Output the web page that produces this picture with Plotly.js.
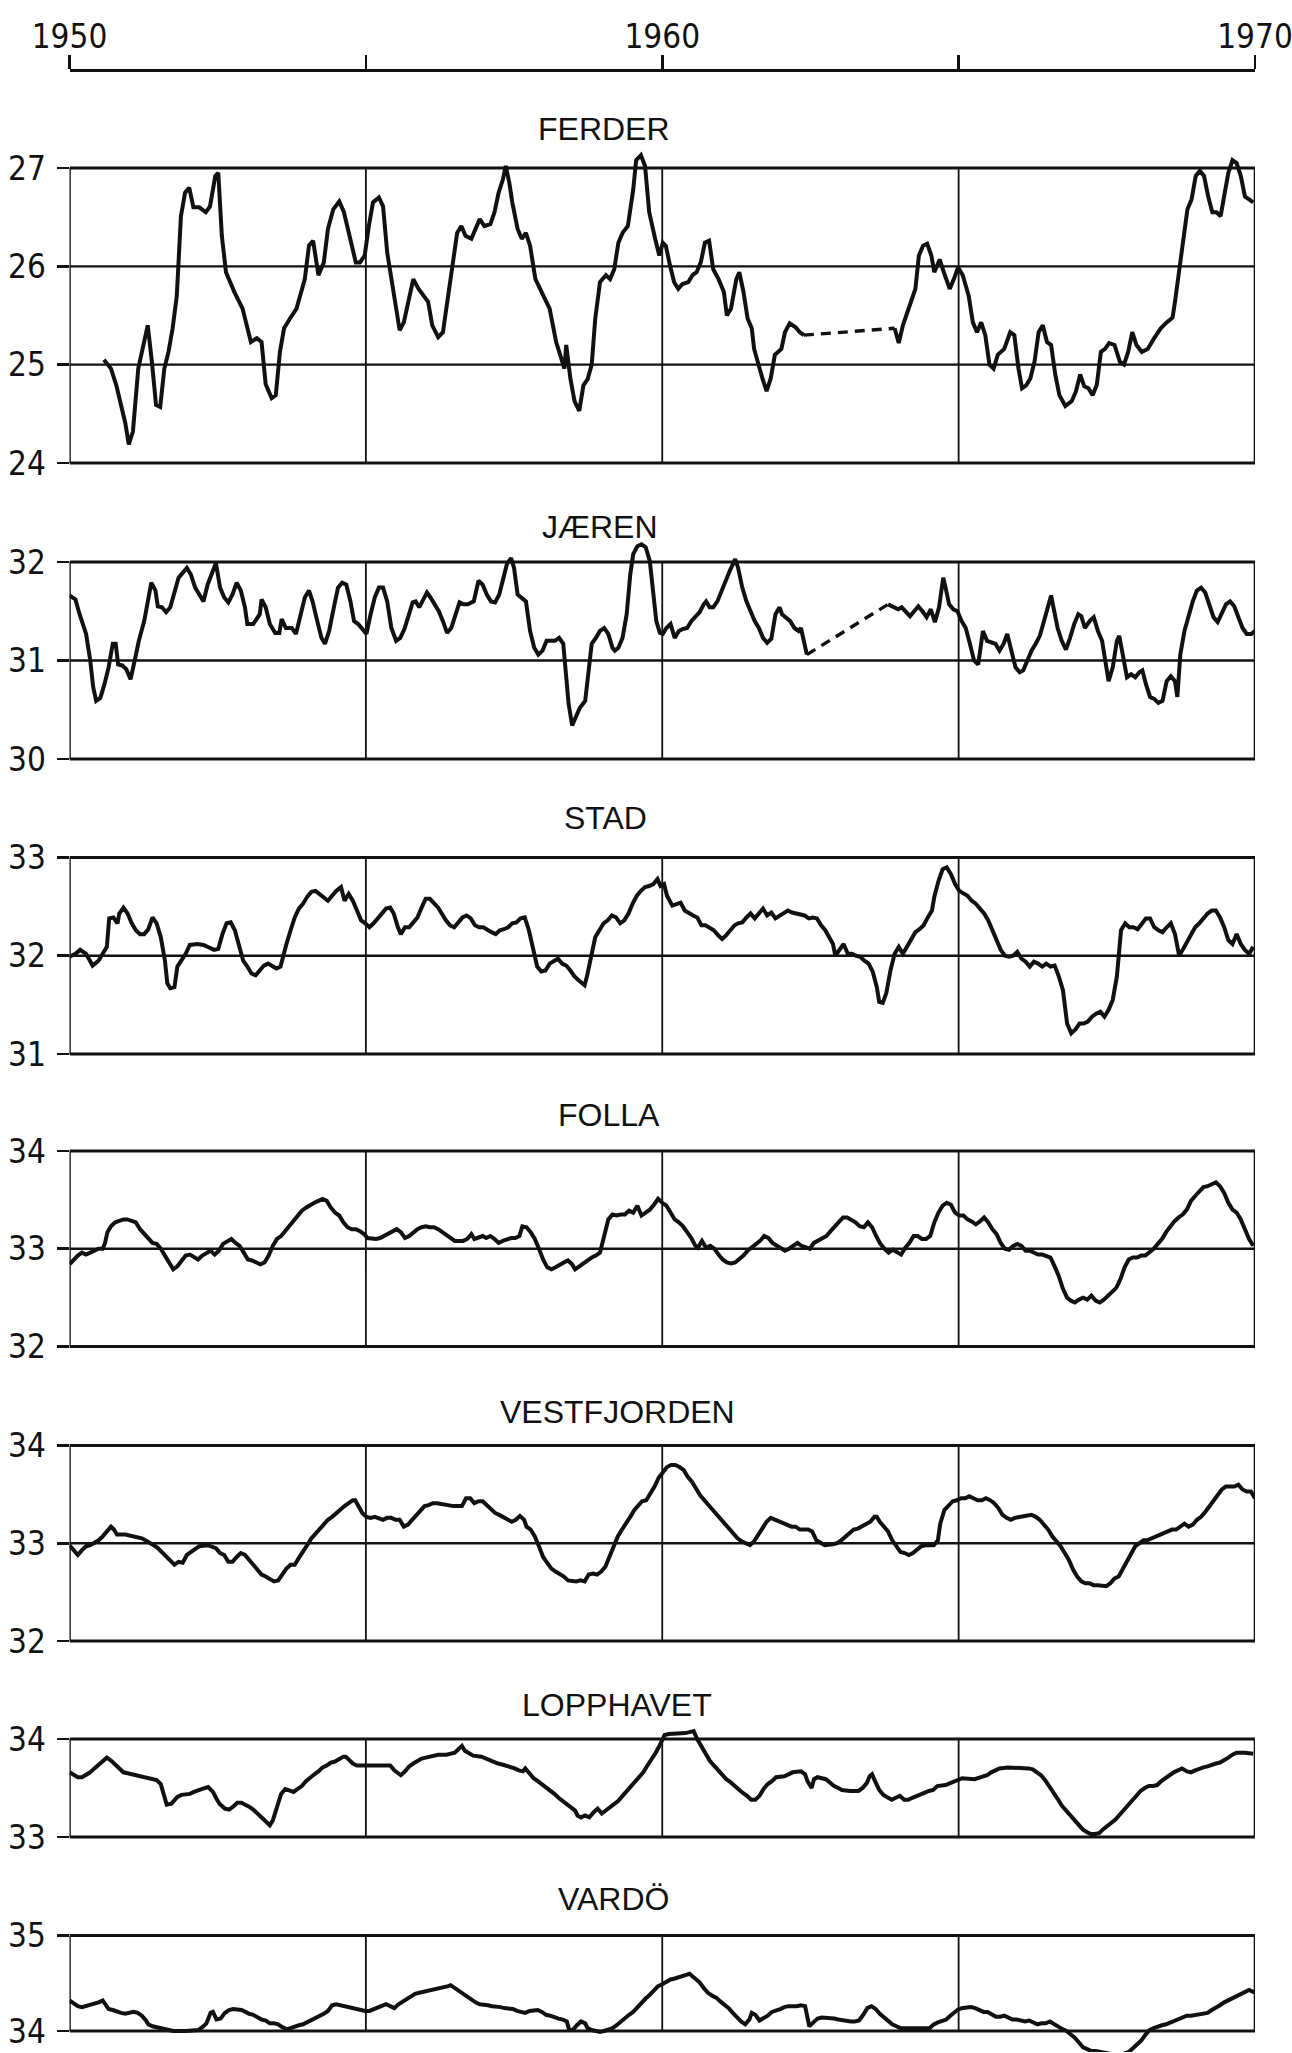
<!DOCTYPE html>
<html>
<head>
<meta charset="utf-8">
<script src="https://cdn.plot.ly/plotly-3.0.1.min.js"></script>
<style>body{margin:0;background:#fff}</style>
</head>
<body>
<div id="chart" style="width:1292px;height:2053px"></div>
<script>
// stations, top to bottom
stations = ['FERDER', 'JÆREN', 'STAD', 'FOLLA', 'VESTFJORDEN', 'LOPPHAVET', 'VARDÖ']
// y ticks of each panel, the box runs from first to last
yticks = [[24,25,26,27], [30,31,32], [31,32,33], [32,33,34], [32,33,34], [33,34], [34,35]]
yearTicks = [1950, 1955, 1960, 1965, 1970]
yearLabels = ['1950', '', '1960', '', '1970']

// [year, salinity]; null marks the gap drawn dashed
ferder = [[1950.58,25.05],[1950.70,24.96],[1950.79,24.79],[1950.88,24.58],[1950.94,24.41],[1951.00,24.19],[1951.07,24.32],[1951.16,24.96],[1951.32,25.40],[1951.39,25.03],[1951.46,24.59],[1951.53,24.57],[1951.60,24.96],[1951.67,25.13],[1951.74,25.37],[1951.81,25.70],[1951.88,26.51],[1951.95,26.75],[1952.02,26.80],[1952.09,26.60],[1952.19,26.60],[1952.30,26.55],[1952.37,26.61],[1952.46,26.92],[1952.51,26.95],[1952.57,26.31],[1952.64,25.94],[1952.78,25.74],[1952.92,25.57],[1953.06,25.23],[1953.16,25.27],[1953.24,25.23],[1953.31,24.80],[1953.41,24.66],[1953.48,24.69],[1953.55,25.13],[1953.62,25.37],[1953.72,25.47],[1953.83,25.57],[1953.97,25.87],[1954.04,26.21],[1954.11,26.26],[1954.20,25.91],[1954.29,26.04],[1954.36,26.38],[1954.45,26.58],[1954.55,26.66],[1954.63,26.55],[1954.73,26.31],[1954.83,26.04],[1954.90,26.04],[1954.98,26.11],[1955.05,26.41],[1955.12,26.65],[1955.22,26.70],[1955.29,26.61],[1955.36,26.14],[1955.47,25.74],[1955.57,25.35],[1955.64,25.43],[1955.73,25.70],[1955.80,25.87],[1955.89,25.77],[1955.98,25.70],[1956.05,25.64],[1956.12,25.40],[1956.22,25.28],[1956.30,25.33],[1956.40,25.74],[1956.47,26.07],[1956.54,26.34],[1956.61,26.41],[1956.68,26.31],[1956.78,26.28],[1956.85,26.39],[1956.92,26.48],[1957.00,26.41],[1957.10,26.43],[1957.17,26.55],[1957.24,26.75],[1957.31,26.88],[1957.36,27.02],[1957.42,26.85],[1957.47,26.65],[1957.56,26.38],[1957.63,26.28],[1957.70,26.34],[1957.77,26.21],[1957.86,25.87],[1958.00,25.70],[1958.10,25.57],[1958.21,25.23],[1958.28,25.10],[1958.35,24.96],[1958.38,25.20],[1958.45,24.86],[1958.52,24.63],[1958.60,24.53],[1958.67,24.79],[1958.74,24.85],[1958.81,25.00],[1958.87,25.47],[1958.95,25.84],[1959.05,25.91],[1959.12,25.87],[1959.19,25.97],[1959.26,26.24],[1959.33,26.34],[1959.42,26.41],[1959.51,26.78],[1959.56,27.08],[1959.64,27.13],[1959.71,27.02],[1959.78,26.55],[1959.88,26.28],[1959.95,26.11],[1960.01,26.24],[1960.06,26.21],[1960.13,26.01],[1960.20,25.84],[1960.27,25.77],[1960.34,25.82],[1960.44,25.84],[1960.51,25.91],[1960.58,25.94],[1960.65,26.04],[1960.72,26.24],[1960.79,26.26],[1960.86,25.97],[1960.95,25.87],[1961.04,25.74],[1961.09,25.50],[1961.16,25.57],[1961.25,25.87],[1961.30,25.94],[1961.37,25.74],[1961.44,25.47],[1961.51,25.37],[1961.55,25.16],[1961.62,25.00],[1961.69,24.86],[1961.76,24.73],[1961.83,24.86],[1961.90,25.10],[1962.01,25.16],[1962.07,25.33],[1962.15,25.42],[1962.25,25.38],[1962.32,25.33],[1962.39,25.30],
  null,
  [1963.92,25.37],[1963.99,25.22],[1964.06,25.40],[1964.20,25.64],[1964.27,25.77],[1964.33,26.11],[1964.40,26.21],[1964.47,26.23],[1964.54,26.11],[1964.59,25.94],[1964.68,26.07],[1964.75,25.94],[1964.85,25.77],[1964.92,25.87],[1964.99,25.99],[1965.07,25.91],[1965.17,25.70],[1965.24,25.43],[1965.31,25.33],[1965.38,25.43],[1965.45,25.30],[1965.52,25.00],[1965.59,24.96],[1965.66,25.10],[1965.77,25.16],[1965.87,25.33],[1965.94,25.30],[1966.01,24.96],[1966.07,24.76],[1966.14,24.79],[1966.21,24.86],[1966.28,25.03],[1966.35,25.33],[1966.42,25.40],[1966.49,25.23],[1966.56,25.20],[1966.63,24.90],[1966.70,24.69],[1966.80,24.58],[1966.91,24.63],[1966.98,24.73],[1967.05,24.90],[1967.12,24.78],[1967.19,24.76],[1967.26,24.69],[1967.33,24.79],[1967.40,25.13],[1967.47,25.16],[1967.54,25.22],[1967.63,25.20],[1967.72,25.03],[1967.79,25.00],[1967.86,25.13],[1967.93,25.33],[1968.00,25.20],[1968.09,25.13],[1968.19,25.16],[1968.30,25.27],[1968.41,25.37],[1968.51,25.43],[1968.61,25.48],[1968.65,25.64],[1968.72,25.97],[1968.79,26.31],[1968.86,26.58],[1968.93,26.68],[1969.00,26.92],[1969.07,26.97],[1969.14,26.92],[1969.21,26.71],[1969.28,26.55],[1969.35,26.55],[1969.42,26.51],[1969.49,26.75],[1969.55,26.95],[1969.62,27.08],[1969.69,27.05],[1969.76,26.92],[1969.83,26.71],[1969.90,26.68],[1969.97,26.65]]

jaeren = [[1950.00,31.66],[1950.10,31.62],[1950.17,31.47],[1950.28,31.27],[1950.35,31.00],[1950.40,30.73],[1950.45,30.59],[1950.52,30.62],[1950.59,30.76],[1950.66,30.93],[1950.73,31.17],[1950.78,31.17],[1950.82,30.96],[1950.89,30.95],[1950.96,30.91],[1951.03,30.81],[1951.10,31.00],[1951.17,31.20],[1951.26,31.40],[1951.32,31.60],[1951.38,31.79],[1951.45,31.71],[1951.49,31.55],[1951.56,31.54],[1951.63,31.49],[1951.70,31.54],[1951.77,31.71],[1951.84,31.84],[1951.91,31.89],[1951.98,31.94],[1952.05,31.87],[1952.12,31.74],[1952.19,31.67],[1952.26,31.60],[1952.33,31.77],[1952.43,31.94],[1952.47,31.99],[1952.54,31.74],[1952.61,31.64],[1952.68,31.59],[1952.75,31.67],[1952.82,31.79],[1952.89,31.71],[1952.96,31.54],[1953.00,31.37],[1953.10,31.37],[1953.21,31.47],[1953.24,31.62],[1953.31,31.54],[1953.38,31.37],[1953.47,31.28],[1953.54,31.28],[1953.58,31.42],[1953.65,31.33],[1953.75,31.33],[1953.82,31.27],[1953.91,31.47],[1953.97,31.64],[1954.04,31.71],[1954.10,31.60],[1954.18,31.40],[1954.25,31.23],[1954.31,31.17],[1954.38,31.30],[1954.46,31.54],[1954.53,31.74],[1954.60,31.79],[1954.67,31.77],[1954.74,31.60],[1954.80,31.40],[1954.87,31.37],[1954.94,31.32],[1955.01,31.27],[1955.08,31.47],[1955.15,31.64],[1955.22,31.74],[1955.29,31.74],[1955.36,31.60],[1955.43,31.33],[1955.51,31.20],[1955.58,31.23],[1955.65,31.32],[1955.72,31.47],[1955.79,31.59],[1955.84,31.60],[1955.90,31.54],[1955.97,31.62],[1956.03,31.69],[1956.09,31.64],[1956.16,31.57],[1956.23,31.50],[1956.30,31.40],[1956.37,31.28],[1956.44,31.33],[1956.51,31.47],[1956.58,31.59],[1956.65,31.57],[1956.72,31.57],[1956.82,31.60],[1956.90,31.81],[1956.97,31.77],[1957.04,31.67],[1957.11,31.60],[1957.18,31.59],[1957.25,31.67],[1957.32,31.84],[1957.38,31.98],[1957.45,32.04],[1957.50,31.94],[1957.56,31.67],[1957.63,31.64],[1957.70,31.60],[1957.77,31.30],[1957.84,31.13],[1957.91,31.06],[1957.98,31.10],[1958.05,31.20],[1958.12,31.20],[1958.19,31.20],[1958.26,31.23],[1958.33,31.17],[1958.37,30.90],[1958.42,30.56],[1958.48,30.34],[1958.54,30.42],[1958.61,30.52],[1958.70,30.59],[1958.74,30.79],[1958.81,31.17],[1958.88,31.23],[1958.95,31.30],[1959.02,31.33],[1959.09,31.27],[1959.16,31.13],[1959.20,31.10],[1959.26,31.13],[1959.33,31.23],[1959.40,31.47],[1959.46,31.87],[1959.51,32.08],[1959.58,32.16],[1959.65,32.18],[1959.72,32.15],[1959.79,32.01],[1959.85,31.71],[1959.90,31.40],[1959.96,31.28],[1960.01,31.27],[1960.07,31.33],[1960.14,31.37],[1960.21,31.23],[1960.28,31.30],[1960.35,31.32],[1960.42,31.33],[1960.49,31.40],[1960.56,31.44],[1960.63,31.49],[1960.70,31.57],[1960.74,31.60],[1960.80,31.54],[1960.86,31.54],[1960.93,31.60],[1961.00,31.71],[1961.07,31.81],[1961.14,31.91],[1961.23,32.03],[1961.28,31.94],[1961.35,31.74],[1961.42,31.60],[1961.49,31.50],[1961.56,31.40],[1961.63,31.33],[1961.70,31.23],[1961.77,31.18],[1961.84,31.22],[1961.91,31.47],[1961.98,31.54],[1962.02,31.47],[1962.09,31.44],[1962.16,31.40],[1962.23,31.33],[1962.30,31.30],[1962.34,31.33],[1962.40,31.17],[1962.44,31.06],
  null,
  [1963.81,31.57],[1963.91,31.54],[1963.98,31.52],[1964.04,31.54],[1964.11,31.49],[1964.18,31.45],[1964.25,31.50],[1964.32,31.55],[1964.39,31.50],[1964.46,31.44],[1964.53,31.52],[1964.60,31.39],[1964.67,31.54],[1964.74,31.84],[1964.78,31.74],[1964.84,31.57],[1964.91,31.52],[1964.98,31.50],[1965.05,31.40],[1965.12,31.33],[1965.19,31.17],[1965.26,31.00],[1965.33,30.96],[1965.41,31.30],[1965.48,31.20],[1965.55,31.18],[1965.62,31.17],[1965.69,31.10],[1965.76,31.17],[1965.82,31.27],[1965.89,31.10],[1965.96,30.93],[1966.03,30.88],[1966.09,30.90],[1966.16,31.00],[1966.23,31.10],[1966.30,31.17],[1966.37,31.25],[1966.44,31.40],[1966.51,31.57],[1966.56,31.66],[1966.60,31.54],[1966.67,31.33],[1966.74,31.20],[1966.81,31.11],[1966.88,31.23],[1966.95,31.37],[1967.02,31.47],[1967.07,31.45],[1967.13,31.33],[1967.21,31.40],[1967.28,31.44],[1967.35,31.30],[1967.42,31.20],[1967.49,30.93],[1967.53,30.79],[1967.60,30.93],[1967.67,31.20],[1967.71,31.25],[1967.77,31.03],[1967.84,30.83],[1967.91,30.86],[1967.98,30.83],[1968.05,30.88],[1968.10,30.90],[1968.16,30.76],[1968.23,30.63],[1968.30,30.61],[1968.37,30.57],[1968.44,30.59],[1968.51,30.79],[1968.58,30.84],[1968.65,30.79],[1968.69,30.63],[1968.74,31.06],[1968.81,31.30],[1968.88,31.47],[1968.95,31.60],[1969.02,31.71],[1969.09,31.74],[1969.16,31.69],[1969.23,31.57],[1969.30,31.44],[1969.37,31.39],[1969.44,31.47],[1969.51,31.57],[1969.58,31.60],[1969.65,31.55],[1969.72,31.44],[1969.79,31.33],[1969.86,31.27],[1969.94,31.27],[1970.00,31.30]]

stad = [[1950.00,31.99],[1950.10,32.02],[1950.18,32.06],[1950.28,32.02],[1950.39,31.90],[1950.49,31.95],[1950.56,32.02],[1950.63,32.09],[1950.67,32.38],[1950.74,32.39],[1950.81,32.33],[1950.84,32.43],[1950.91,32.49],[1950.98,32.43],[1951.05,32.33],[1951.12,32.26],[1951.19,32.22],[1951.26,32.22],[1951.33,32.27],[1951.40,32.39],[1951.47,32.33],[1951.54,32.19],[1951.61,31.95],[1951.65,31.72],[1951.70,31.67],[1951.77,31.68],[1951.82,31.89],[1951.89,31.95],[1951.96,32.02],[1952.03,32.11],[1952.10,32.12],[1952.16,32.12],[1952.26,32.11],[1952.35,32.09],[1952.44,32.06],[1952.51,32.07],[1952.58,32.22],[1952.65,32.33],[1952.72,32.34],[1952.79,32.26],[1952.86,32.09],[1952.93,31.95],[1953.00,31.89],[1953.07,31.82],[1953.14,31.80],[1953.21,31.85],[1953.28,31.90],[1953.35,31.92],[1953.42,31.89],[1953.49,31.87],[1953.56,31.89],[1953.60,31.99],[1953.66,32.12],[1953.73,32.26],[1953.80,32.39],[1953.87,32.48],[1953.94,32.53],[1954.01,32.60],[1954.08,32.65],[1954.15,32.66],[1954.22,32.63],[1954.29,32.60],[1954.36,32.56],[1954.43,32.61],[1954.50,32.66],[1954.58,32.70],[1954.64,32.56],[1954.71,32.63],[1954.78,32.56],[1954.85,32.46],[1954.92,32.36],[1954.99,32.33],[1955.06,32.29],[1955.13,32.33],[1955.20,32.38],[1955.27,32.43],[1955.34,32.48],[1955.41,32.49],[1955.47,32.43],[1955.54,32.29],[1955.59,32.22],[1955.66,32.29],[1955.73,32.29],[1955.80,32.34],[1955.87,32.39],[1955.94,32.49],[1956.01,32.58],[1956.08,32.58],[1956.15,32.54],[1956.22,32.49],[1956.28,32.43],[1956.35,32.36],[1956.42,32.31],[1956.49,32.29],[1956.56,32.34],[1956.63,32.39],[1956.70,32.41],[1956.77,32.38],[1956.84,32.31],[1956.91,32.29],[1956.98,32.29],[1957.05,32.26],[1957.12,32.24],[1957.19,32.22],[1957.26,32.26],[1957.33,32.27],[1957.40,32.29],[1957.47,32.33],[1957.54,32.34],[1957.61,32.38],[1957.68,32.39],[1957.75,32.26],[1957.82,32.06],[1957.89,31.89],[1957.96,31.84],[1958.03,31.85],[1958.10,31.92],[1958.17,31.95],[1958.24,31.97],[1958.31,31.92],[1958.38,31.90],[1958.45,31.85],[1958.52,31.79],[1958.59,31.75],[1958.69,31.70],[1958.73,31.79],[1958.80,31.99],[1958.87,32.19],[1958.94,32.26],[1959.01,32.33],[1959.08,32.36],[1959.15,32.41],[1959.22,32.39],[1959.29,32.33],[1959.36,32.36],[1959.43,32.43],[1959.50,32.53],[1959.57,32.61],[1959.64,32.66],[1959.71,32.70],[1959.78,32.71],[1959.85,32.73],[1959.92,32.78],[1959.97,32.71],[1960.03,32.73],[1960.08,32.61],[1960.17,32.51],[1960.24,32.53],[1960.31,32.54],[1960.38,32.46],[1960.45,32.43],[1960.52,32.41],[1960.59,32.39],[1960.66,32.31],[1960.73,32.31],[1960.80,32.29],[1960.87,32.26],[1960.94,32.21],[1961.01,32.17],[1961.08,32.21],[1961.15,32.26],[1961.22,32.31],[1961.28,32.33],[1961.35,32.34],[1961.42,32.39],[1961.49,32.43],[1961.56,32.38],[1961.63,32.43],[1961.70,32.48],[1961.77,32.41],[1961.84,32.44],[1961.91,32.38],[1961.98,32.41],[1962.05,32.43],[1962.12,32.46],[1962.19,32.44],[1962.26,32.43],[1962.33,32.43],[1962.40,32.41],[1962.47,32.38],[1962.54,32.39],[1962.61,32.38],[1962.68,32.31],[1962.75,32.26],[1962.82,32.19],[1962.88,32.12],[1962.92,32.00],[1962.99,32.06],[1963.06,32.12],[1963.13,32.02],[1963.20,32.02],[1963.27,32.00],[1963.34,31.99],[1963.41,31.95],[1963.48,31.92],[1963.55,31.84],[1963.62,31.68],[1963.66,31.53],[1963.72,31.52],[1963.78,31.62],[1963.85,31.85],[1963.92,32.02],[1963.99,32.09],[1964.06,32.02],[1964.13,32.09],[1964.20,32.17],[1964.27,32.24],[1964.34,32.27],[1964.41,32.31],[1964.48,32.39],[1964.55,32.46],[1964.59,32.60],[1964.66,32.76],[1964.73,32.88],[1964.80,32.90],[1964.87,32.83],[1964.94,32.73],[1965.01,32.66],[1965.08,32.63],[1965.15,32.61],[1965.22,32.56],[1965.29,32.53],[1965.36,32.48],[1965.43,32.43],[1965.50,32.36],[1965.57,32.26],[1965.64,32.16],[1965.71,32.06],[1965.78,32.00],[1965.85,31.99],[1965.92,32.00],[1965.99,32.04],[1966.06,31.97],[1966.13,31.94],[1966.20,31.89],[1966.27,31.94],[1966.34,31.92],[1966.41,31.89],[1966.48,31.92],[1966.55,31.89],[1966.62,31.90],[1966.69,31.79],[1966.76,31.65],[1966.83,31.31],[1966.90,31.21],[1966.97,31.25],[1967.04,31.31],[1967.11,31.31],[1967.18,31.33],[1967.25,31.38],[1967.32,31.41],[1967.39,31.43],[1967.46,31.38],[1967.53,31.45],[1967.60,31.55],[1967.67,31.79],[1967.74,32.26],[1967.81,32.33],[1967.88,32.29],[1967.95,32.29],[1968.02,32.27],[1968.09,32.33],[1968.16,32.38],[1968.23,32.38],[1968.30,32.29],[1968.37,32.26],[1968.44,32.24],[1968.51,32.29],[1968.58,32.33],[1968.65,32.22],[1968.72,32.00],[1968.78,32.06],[1968.85,32.14],[1968.92,32.22],[1968.99,32.29],[1969.06,32.33],[1969.13,32.38],[1969.20,32.43],[1969.27,32.46],[1969.34,32.46],[1969.41,32.39],[1969.48,32.29],[1969.55,32.16],[1969.62,32.12],[1969.69,32.22],[1969.76,32.12],[1969.83,32.06],[1969.90,32.02],[1969.97,32.09]]

folla = [[1950.00,32.84],[1950.07,32.89],[1950.14,32.93],[1950.21,32.96],[1950.28,32.94],[1950.35,32.96],[1950.42,32.98],[1950.49,33.00],[1950.56,33.00],[1950.60,33.06],[1950.64,33.17],[1950.70,33.23],[1950.77,33.27],[1950.84,33.29],[1950.91,33.30],[1950.98,33.30],[1951.05,33.28],[1951.12,33.27],[1951.19,33.20],[1951.26,33.15],[1951.33,33.11],[1951.40,33.06],[1951.47,33.05],[1951.54,33.00],[1951.61,32.93],[1951.68,32.86],[1951.75,32.79],[1951.82,32.82],[1951.89,32.88],[1951.96,32.93],[1952.03,32.94],[1952.10,32.91],[1952.17,32.89],[1952.24,32.93],[1952.31,32.96],[1952.38,32.98],[1952.45,32.94],[1952.52,32.98],[1952.59,33.05],[1952.66,33.08],[1952.73,33.10],[1952.80,33.06],[1952.87,33.03],[1952.94,32.96],[1953.01,32.89],[1953.08,32.88],[1953.15,32.86],[1953.22,32.84],[1953.29,32.86],[1953.36,32.93],[1953.43,33.03],[1953.50,33.10],[1953.57,33.13],[1953.64,33.18],[1953.71,33.23],[1953.78,33.28],[1953.85,33.34],[1953.92,33.39],[1953.99,33.42],[1954.06,33.45],[1954.13,33.47],[1954.20,33.49],[1954.27,33.51],[1954.34,33.49],[1954.41,33.42],[1954.48,33.37],[1954.55,33.34],[1954.62,33.27],[1954.69,33.22],[1954.76,33.20],[1954.83,33.20],[1954.90,33.18],[1954.97,33.15],[1955.03,33.11],[1955.10,33.10],[1955.17,33.10],[1955.24,33.11],[1955.31,33.13],[1955.38,33.15],[1955.45,33.18],[1955.52,33.20],[1955.59,33.17],[1955.66,33.11],[1955.73,33.13],[1955.80,33.17],[1955.87,33.20],[1955.94,33.22],[1956.01,33.23],[1956.08,33.22],[1956.15,33.22],[1956.22,33.20],[1956.29,33.17],[1956.36,33.13],[1956.43,33.10],[1956.50,33.08],[1956.57,33.08],[1956.64,33.08],[1956.71,33.10],[1956.78,33.15],[1956.83,33.10],[1956.90,33.11],[1956.97,33.13],[1957.03,33.11],[1957.10,33.13],[1957.17,33.10],[1957.24,33.06],[1957.31,33.08],[1957.38,33.10],[1957.45,33.11],[1957.52,33.11],[1957.59,33.13],[1957.64,33.23],[1957.71,33.22],[1957.78,33.17],[1957.85,33.10],[1957.92,33.00],[1957.99,32.89],[1958.06,32.81],[1958.13,32.79],[1958.20,32.81],[1958.27,32.84],[1958.34,32.86],[1958.41,32.88],[1958.48,32.84],[1958.53,32.79],[1958.60,32.82],[1958.67,32.86],[1958.74,32.88],[1958.81,32.91],[1958.88,32.93],[1958.95,32.96],[1959.02,33.13],[1959.09,33.30],[1959.16,33.35],[1959.23,33.34],[1959.30,33.35],[1959.37,33.35],[1959.44,33.39],[1959.51,33.37],[1959.58,33.44],[1959.65,33.34],[1959.72,33.37],[1959.79,33.40],[1959.86,33.45],[1959.93,33.51],[1960.00,33.47],[1960.07,33.44],[1960.14,33.37],[1960.21,33.30],[1960.28,33.27],[1960.35,33.23],[1960.42,33.17],[1960.49,33.11],[1960.56,33.03],[1960.60,33.01],[1960.67,33.08],[1960.74,33.01],[1960.81,33.03],[1960.88,33.00],[1960.95,32.94],[1961.02,32.89],[1961.09,32.86],[1961.16,32.85],[1961.23,32.86],[1961.30,32.89],[1961.37,32.93],[1961.44,32.98],[1961.51,33.01],[1961.58,33.05],[1961.65,33.08],[1961.72,33.13],[1961.79,33.11],[1961.86,33.06],[1961.93,33.03],[1962.00,33.00],[1962.07,32.98],[1962.14,33.00],[1962.21,33.03],[1962.28,33.06],[1962.35,33.03],[1962.42,33.01],[1962.49,33.00],[1962.56,33.06],[1962.63,33.08],[1962.70,33.10],[1962.77,33.13],[1962.84,33.18],[1962.91,33.23],[1962.98,33.28],[1963.05,33.32],[1963.12,33.32],[1963.19,33.30],[1963.26,33.27],[1963.33,33.23],[1963.40,33.22],[1963.47,33.27],[1963.54,33.22],[1963.61,33.13],[1963.68,33.05],[1963.75,33.00],[1963.82,32.96],[1963.89,32.99],[1963.96,32.96],[1964.03,32.94],[1964.10,33.01],[1964.17,33.06],[1964.24,33.13],[1964.31,33.13],[1964.38,33.10],[1964.45,33.10],[1964.52,33.13],[1964.59,33.27],[1964.66,33.37],[1964.73,33.44],[1964.80,33.47],[1964.87,33.45],[1964.94,33.37],[1965.01,33.34],[1965.08,33.34],[1965.15,33.30],[1965.22,33.28],[1965.29,33.25],[1965.36,33.28],[1965.43,33.32],[1965.50,33.27],[1965.57,33.20],[1965.64,33.15],[1965.71,33.06],[1965.78,33.00],[1965.85,32.99],[1965.92,33.03],[1965.99,33.05],[1966.06,33.03],[1966.13,32.98],[1966.20,32.98],[1966.27,32.96],[1966.34,32.94],[1966.41,32.94],[1966.48,32.93],[1966.55,32.91],[1966.62,32.82],[1966.69,32.72],[1966.76,32.59],[1966.83,32.50],[1966.89,32.47],[1966.96,32.45],[1967.03,32.48],[1967.10,32.50],[1967.17,32.48],[1967.24,32.52],[1967.31,32.47],[1967.38,32.45],[1967.45,32.48],[1967.52,32.52],[1967.59,32.55],[1967.66,32.60],[1967.73,32.69],[1967.80,32.81],[1967.87,32.89],[1967.94,32.91],[1968.01,32.91],[1968.08,32.93],[1968.15,32.93],[1968.22,32.96],[1968.29,33.00],[1968.36,33.05],[1968.43,33.10],[1968.50,33.17],[1968.57,33.23],[1968.64,33.28],[1968.71,33.32],[1968.78,33.35],[1968.85,33.40],[1968.92,33.49],[1968.99,33.54],[1969.06,33.59],[1969.13,33.63],[1969.20,33.64],[1969.27,33.66],[1969.34,33.68],[1969.41,33.64],[1969.48,33.57],[1969.55,33.47],[1969.62,33.40],[1969.69,33.37],[1969.76,33.30],[1969.83,33.20],[1969.90,33.10],[1969.97,33.03]]

vestfjorden = [[1950.00,32.98],[1950.07,32.93],[1950.14,32.88],[1950.21,32.93],[1950.28,32.97],[1950.35,32.98],[1950.42,33.00],[1950.49,33.03],[1950.56,33.07],[1950.63,33.12],[1950.70,33.17],[1950.75,33.14],[1950.80,33.09],[1950.94,33.09],[1951.08,33.07],[1951.22,33.05],[1951.28,33.03],[1951.35,33.01],[1951.42,32.98],[1951.49,32.95],[1951.56,32.91],[1951.63,32.86],[1951.70,32.83],[1951.77,32.78],[1951.84,32.81],[1951.91,32.80],[1951.98,32.88],[1952.05,32.91],[1952.12,32.95],[1952.19,32.97],[1952.33,32.98],[1952.40,32.97],[1952.47,32.95],[1952.54,32.90],[1952.61,32.88],[1952.68,32.81],[1952.75,32.81],[1952.82,32.86],[1952.89,32.90],[1952.96,32.88],[1953.03,32.83],[1953.10,32.78],[1953.17,32.73],[1953.24,32.68],[1953.31,32.66],[1953.38,32.64],[1953.45,32.61],[1953.52,32.62],[1953.59,32.68],[1953.66,32.74],[1953.73,32.78],[1953.80,32.78],[1953.87,32.85],[1953.94,32.91],[1954.01,32.98],[1954.08,33.05],[1954.15,33.10],[1954.22,33.15],[1954.29,33.20],[1954.36,33.24],[1954.43,33.27],[1954.50,33.31],[1954.57,33.34],[1954.64,33.38],[1954.71,33.41],[1954.78,33.44],[1954.82,33.44],[1954.87,33.38],[1954.94,33.31],[1955.01,33.27],[1955.08,33.26],[1955.15,33.27],[1955.22,33.26],[1955.29,33.24],[1955.36,33.26],[1955.43,33.26],[1955.50,33.24],[1955.57,33.24],[1955.64,33.17],[1955.71,33.19],[1955.78,33.24],[1955.85,33.29],[1955.92,33.34],[1955.99,33.38],[1956.06,33.39],[1956.13,33.41],[1956.20,33.41],[1956.27,33.40],[1956.34,33.39],[1956.41,33.39],[1956.48,33.38],[1956.55,33.38],[1956.62,33.38],[1956.69,33.46],[1956.76,33.46],[1956.83,33.41],[1956.90,33.43],[1956.97,33.43],[1957.04,33.39],[1957.11,33.34],[1957.18,33.31],[1957.25,33.29],[1957.32,33.27],[1957.39,33.24],[1957.46,33.22],[1957.53,33.24],[1957.60,33.28],[1957.67,33.24],[1957.71,33.17],[1957.78,33.14],[1957.85,33.07],[1957.92,32.97],[1957.99,32.86],[1958.06,32.80],[1958.13,32.74],[1958.20,32.71],[1958.27,32.69],[1958.34,32.66],[1958.41,32.62],[1958.48,32.61],[1958.55,32.61],[1958.62,32.62],[1958.69,32.61],[1958.76,32.68],[1958.83,32.69],[1958.90,32.68],[1958.97,32.71],[1959.04,32.76],[1959.11,32.86],[1959.18,32.97],[1959.25,33.07],[1959.32,33.14],[1959.39,33.20],[1959.46,33.27],[1959.53,33.34],[1959.60,33.39],[1959.66,33.43],[1959.73,33.44],[1959.80,33.51],[1959.87,33.58],[1959.94,33.67],[1960.01,33.73],[1960.08,33.78],[1960.15,33.80],[1960.22,33.80],[1960.29,33.78],[1960.36,33.75],[1960.43,33.68],[1960.50,33.63],[1960.57,33.56],[1960.64,33.49],[1960.71,33.44],[1960.78,33.39],[1960.85,33.34],[1960.92,33.29],[1960.99,33.24],[1961.06,33.19],[1961.13,33.14],[1961.20,33.09],[1961.27,33.05],[1961.34,33.02],[1961.41,33.00],[1961.48,32.98],[1961.55,33.02],[1961.62,33.09],[1961.69,33.15],[1961.76,33.22],[1961.83,33.26],[1961.90,33.24],[1961.97,33.22],[1962.04,33.20],[1962.11,33.19],[1962.18,33.17],[1962.25,33.17],[1962.32,33.14],[1962.46,33.14],[1962.53,33.12],[1962.60,33.03],[1962.67,33.00],[1962.74,32.98],[1962.88,32.99],[1962.95,33.00],[1963.02,33.03],[1963.09,33.07],[1963.16,33.10],[1963.23,33.14],[1963.30,33.15],[1963.37,33.17],[1963.44,33.19],[1963.51,33.22],[1963.58,33.27],[1963.62,33.27],[1963.67,33.22],[1963.74,33.17],[1963.81,33.12],[1963.88,33.03],[1963.95,32.97],[1964.02,32.91],[1964.09,32.90],[1964.16,32.88],[1964.23,32.90],[1964.30,32.93],[1964.37,32.97],[1964.44,32.98],[1964.58,32.98],[1964.65,33.03],[1964.69,33.20],[1964.76,33.34],[1964.83,33.39],[1964.90,33.43],[1964.97,33.44],[1965.04,33.46],[1965.11,33.46],[1965.18,33.48],[1965.25,33.46],[1965.32,33.44],[1965.39,33.44],[1965.46,33.46],[1965.53,33.44],[1965.60,33.41],[1965.67,33.36],[1965.74,33.29],[1965.81,33.26],[1965.88,33.24],[1965.95,33.26],[1966.02,33.27],[1966.09,33.27],[1966.16,33.29],[1966.23,33.29],[1966.30,33.27],[1966.37,33.24],[1966.44,33.19],[1966.51,33.14],[1966.58,33.07],[1966.65,33.02],[1966.72,32.97],[1966.79,32.90],[1966.86,32.83],[1966.93,32.73],[1967.00,32.66],[1967.07,32.61],[1967.14,32.59],[1967.21,32.59],[1967.28,32.57],[1967.35,32.57],[1967.42,32.56],[1967.49,32.56],[1967.56,32.59],[1967.63,32.64],[1967.70,32.66],[1967.77,32.74],[1967.84,32.83],[1967.91,32.90],[1967.98,32.97],[1968.05,33.00],[1968.12,33.03],[1968.18,33.03],[1968.25,33.05],[1968.32,33.07],[1968.39,33.09],[1968.46,33.10],[1968.53,33.12],[1968.60,33.14],[1968.67,33.14],[1968.74,33.17],[1968.81,33.20],[1968.88,33.17],[1968.95,33.19],[1969.02,33.24],[1969.09,33.27],[1969.16,33.32],[1969.23,33.38],[1969.30,33.44],[1969.37,33.49],[1969.44,33.55],[1969.51,33.58],[1969.65,33.58],[1969.72,33.60],[1969.79,33.55],[1969.86,33.53],[1969.93,33.53],[1970.00,33.46]]

lopphavet = [[1950.00,33.66],[1950.07,33.63],[1950.14,33.61],[1950.21,33.61],[1950.28,33.63],[1950.35,33.66],[1950.42,33.70],[1950.49,33.74],[1950.56,33.78],[1950.63,33.81],[1950.70,33.78],[1950.77,33.74],[1950.84,33.70],[1950.91,33.66],[1950.98,33.65],[1951.12,33.63],[1951.26,33.62],[1951.40,33.59],[1951.47,33.58],[1951.54,33.54],[1951.58,33.44],[1951.64,33.33],[1951.72,33.34],[1951.78,33.38],[1951.82,33.41],[1951.89,33.43],[1952.03,33.44],[1952.10,33.46],[1952.17,33.48],[1952.24,33.49],[1952.34,33.51],[1952.42,33.46],[1952.48,33.39],[1952.53,33.34],[1952.62,33.29],[1952.69,33.28],[1952.76,33.31],[1952.83,33.35],[1952.90,33.35],[1952.97,33.33],[1953.03,33.31],[1953.10,33.28],[1953.17,33.24],[1953.24,33.21],[1953.31,33.16],[1953.38,33.12],[1953.43,33.17],[1953.50,33.31],[1953.57,33.44],[1953.64,33.49],[1953.71,33.47],[1953.78,33.46],[1953.85,33.49],[1953.92,33.52],[1953.99,33.57],[1954.06,33.61],[1954.13,33.64],[1954.20,33.67],[1954.27,33.71],[1954.34,33.73],[1954.41,33.76],[1954.48,33.77],[1954.55,33.79],[1954.62,33.82],[1954.66,33.82],[1954.71,33.79],[1954.78,33.75],[1954.85,33.73],[1955.13,33.73],[1955.27,33.74],[1955.41,33.73],[1955.48,33.68],[1955.55,33.65],[1955.59,33.63],[1955.66,33.67],[1955.73,33.72],[1955.80,33.75],[1955.87,33.78],[1955.94,33.80],[1956.01,33.81],[1956.08,33.82],[1956.22,33.84],[1956.36,33.84],[1956.43,33.85],[1956.50,33.86],[1956.57,33.90],[1956.62,33.93],[1956.67,33.88],[1956.74,33.85],[1956.81,33.83],[1956.95,33.82],[1957.02,33.80],[1957.09,33.78],[1957.16,33.77],[1957.23,33.75],[1957.30,33.74],[1957.37,33.73],[1957.44,33.72],[1957.51,33.70],[1957.58,33.68],[1957.65,33.67],[1957.69,33.70],[1957.76,33.65],[1957.83,33.60],[1957.90,33.57],[1957.97,33.54],[1958.04,33.50],[1958.11,33.47],[1958.18,33.44],[1958.25,33.40],[1958.32,33.37],[1958.39,33.34],[1958.46,33.30],[1958.53,33.27],[1958.57,33.22],[1958.63,33.20],[1958.70,33.22],[1958.77,33.20],[1958.84,33.25],[1958.91,33.29],[1958.98,33.24],[1959.05,33.27],[1959.12,33.30],[1959.19,33.34],[1959.26,33.37],[1959.33,33.42],[1959.40,33.47],[1959.47,33.52],[1959.54,33.57],[1959.61,33.61],[1959.68,33.66],[1959.75,33.73],[1959.82,33.79],[1959.89,33.86],[1959.96,33.94],[1960.00,34.00],[1960.04,34.04],[1960.11,34.05],[1960.32,34.05],[1960.39,34.06],[1960.46,34.07],[1960.53,34.08],[1960.59,34.00],[1960.66,33.92],[1960.73,33.85],[1960.80,33.78],[1960.87,33.73],[1960.94,33.68],[1961.01,33.63],[1961.08,33.59],[1961.15,33.56],[1961.22,33.52],[1961.29,33.49],[1961.36,33.45],[1961.43,33.42],[1961.50,33.38],[1961.57,33.38],[1961.64,33.42],[1961.71,33.49],[1961.78,33.54],[1961.85,33.57],[1961.92,33.61],[1962.06,33.62],[1962.13,33.64],[1962.20,33.66],[1962.34,33.67],[1962.41,33.64],[1962.45,33.57],[1962.52,33.50],[1962.56,33.59],[1962.62,33.61],[1962.76,33.59],[1962.83,33.55],[1962.90,33.52],[1962.97,33.50],[1963.03,33.48],[1963.17,33.47],[1963.31,33.47],[1963.38,33.50],[1963.45,33.55],[1963.50,33.62],[1963.54,33.64],[1963.59,33.57],[1963.66,33.48],[1963.73,33.43],[1963.80,33.40],[1963.87,33.38],[1963.94,33.40],[1964.01,33.42],[1964.08,33.38],[1964.15,33.38],[1964.22,33.40],[1964.29,33.42],[1964.36,33.43],[1964.43,33.45],[1964.50,33.47],[1964.57,33.48],[1964.64,33.52],[1964.78,33.53],[1964.85,33.55],[1964.92,33.57],[1964.99,33.58],[1965.06,33.60],[1965.27,33.59],[1965.34,33.60],[1965.41,33.61],[1965.48,33.63],[1965.55,33.66],[1965.62,33.68],[1965.69,33.70],[1965.83,33.71],[1966.11,33.71],[1966.18,33.70],[1966.25,33.69],[1966.32,33.66],[1966.39,33.63],[1966.46,33.58],[1966.53,33.52],[1966.60,33.46],[1966.67,33.39],[1966.74,33.32],[1966.81,33.27],[1966.88,33.22],[1966.95,33.17],[1967.02,33.12],[1967.09,33.08],[1967.16,33.05],[1967.23,33.03],[1967.30,33.03],[1967.37,33.04],[1967.44,33.08],[1967.51,33.11],[1967.58,33.14],[1967.65,33.18],[1967.72,33.23],[1967.79,33.28],[1967.86,33.33],[1967.93,33.38],[1968.00,33.43],[1968.07,33.47],[1968.14,33.50],[1968.21,33.52],[1968.28,33.52],[1968.35,33.53],[1968.42,33.57],[1968.49,33.60],[1968.56,33.64],[1968.63,33.66],[1968.70,33.68],[1968.77,33.70],[1968.85,33.67],[1968.92,33.66],[1968.99,33.68],[1969.06,33.70],[1969.13,33.71],[1969.20,33.72],[1969.27,33.74],[1969.34,33.75],[1969.41,33.76],[1969.48,33.78],[1969.55,33.81],[1969.62,33.84],[1969.69,33.86],[1969.83,33.86],[1969.90,33.86],[1969.97,33.85]]

vardo = [[1950.00,34.32],[1950.07,34.29],[1950.14,34.26],[1950.21,34.25],[1950.28,34.26],[1950.35,34.27],[1950.42,34.29],[1950.49,34.30],[1950.56,34.32],[1950.60,34.29],[1950.66,34.23],[1950.73,34.22],[1950.80,34.20],[1950.87,34.19],[1950.94,34.18],[1951.01,34.19],[1951.08,34.20],[1951.15,34.19],[1951.22,34.16],[1951.29,34.11],[1951.33,34.07],[1951.40,34.05],[1951.47,34.04],[1951.54,34.02],[1951.61,34.01],[1951.75,34.00],[1951.96,34.00],[1952.17,34.01],[1952.24,34.04],[1952.31,34.08],[1952.38,34.19],[1952.42,34.20],[1952.48,34.12],[1952.55,34.13],[1952.62,34.19],[1952.69,34.22],[1952.76,34.23],[1952.83,34.23],[1952.90,34.22],[1952.97,34.20],[1953.03,34.18],[1953.10,34.17],[1953.17,34.14],[1953.24,34.12],[1953.31,34.11],[1953.38,34.08],[1953.45,34.08],[1953.52,34.07],[1953.59,34.04],[1953.66,34.02],[1953.73,34.03],[1953.80,34.05],[1953.87,34.06],[1953.94,34.07],[1954.01,34.09],[1954.08,34.11],[1954.15,34.13],[1954.22,34.15],[1954.29,34.18],[1954.36,34.21],[1954.43,34.27],[1954.50,34.28],[1954.57,34.27],[1954.64,34.25],[1954.71,34.25],[1954.78,34.24],[1954.85,34.23],[1954.92,34.22],[1954.99,34.21],[1955.06,34.21],[1955.13,34.23],[1955.20,34.24],[1955.27,34.26],[1955.34,34.28],[1955.41,34.26],[1955.48,34.24],[1955.55,34.28],[1955.62,34.31],[1955.69,34.34],[1955.76,34.36],[1955.83,34.39],[1955.90,34.40],[1955.97,34.41],[1956.04,34.42],[1956.11,34.42],[1956.18,34.43],[1956.25,34.45],[1956.32,34.46],[1956.39,34.47],[1956.43,34.48],[1956.50,34.45],[1956.57,34.42],[1956.64,34.38],[1956.71,34.35],[1956.78,34.33],[1956.85,34.30],[1956.92,34.28],[1956.99,34.28],[1957.06,34.27],[1957.13,34.26],[1957.20,34.26],[1957.27,34.25],[1957.34,34.24],[1957.41,34.24],[1957.48,34.23],[1957.55,34.21],[1957.62,34.20],[1957.69,34.19],[1957.76,34.21],[1957.83,34.22],[1957.90,34.22],[1957.97,34.20],[1958.04,34.17],[1958.11,34.16],[1958.18,34.14],[1958.25,34.13],[1958.32,34.12],[1958.39,34.10],[1958.43,34.01],[1958.49,34.01],[1958.56,34.06],[1958.63,34.10],[1958.70,34.08],[1958.74,34.03],[1958.81,34.01],[1958.88,34.00],[1958.95,33.99],[1959.02,34.00],[1959.09,34.01],[1959.16,34.03],[1959.23,34.06],[1959.30,34.10],[1959.37,34.13],[1959.44,34.17],[1959.51,34.20],[1959.58,34.25],[1959.65,34.29],[1959.72,34.34],[1959.79,34.38],[1959.86,34.42],[1959.93,34.47],[1960.00,34.49],[1960.07,34.52],[1960.14,34.54],[1960.21,34.55],[1960.28,34.56],[1960.35,34.57],[1960.42,34.59],[1960.46,34.60],[1960.52,34.57],[1960.56,34.54],[1960.63,34.51],[1960.70,34.45],[1960.77,34.40],[1960.84,34.37],[1960.91,34.35],[1960.98,34.31],[1961.05,34.28],[1961.12,34.24],[1961.19,34.19],[1961.26,34.14],[1961.33,34.10],[1961.40,34.07],[1961.47,34.12],[1961.51,34.19],[1961.57,34.17],[1961.64,34.11],[1961.71,34.13],[1961.78,34.16],[1961.85,34.20],[1961.92,34.21],[1961.99,34.23],[1962.06,34.25],[1962.13,34.26],[1962.27,34.26],[1962.34,34.27],[1962.41,34.26],[1962.48,34.05],[1962.55,34.09],[1962.62,34.13],[1962.69,34.14],[1962.83,34.14],[1962.90,34.13],[1962.97,34.12],[1963.04,34.11],[1963.18,34.10],[1963.25,34.10],[1963.32,34.11],[1963.39,34.17],[1963.46,34.24],[1963.53,34.26],[1963.60,34.23],[1963.67,34.18],[1963.74,34.14],[1963.81,34.11],[1963.88,34.07],[1963.95,34.05],[1964.02,34.03],[1964.51,34.03],[1964.58,34.07],[1964.65,34.09],[1964.72,34.11],[1964.79,34.12],[1964.86,34.16],[1964.93,34.19],[1965.00,34.23],[1965.07,34.24],[1965.14,34.25],[1965.21,34.25],[1965.28,34.24],[1965.35,34.22],[1965.42,34.20],[1965.49,34.20],[1965.56,34.17],[1965.63,34.15],[1965.70,34.15],[1965.77,34.16],[1965.84,34.14],[1965.91,34.12],[1965.98,34.12],[1966.05,34.11],[1966.12,34.10],[1966.19,34.11],[1966.26,34.09],[1966.33,34.07],[1966.40,34.08],[1966.47,34.08],[1966.54,34.10],[1966.61,34.07],[1966.68,34.05],[1966.75,34.02],[1966.82,34.00],[1966.89,33.97],[1966.96,33.93],[1967.03,33.88],[1967.10,33.83],[1967.17,33.81],[1967.24,33.79],[1967.31,33.79],[1967.38,33.78],[1967.45,33.77],[1967.52,33.76],[1967.59,33.75],[1967.66,33.75],[1967.73,33.75],[1967.80,33.77],[1967.87,33.78],[1967.94,33.82],[1968.01,33.86],[1968.08,33.90],[1968.15,33.96],[1968.22,34.01],[1968.29,34.03],[1968.36,34.05],[1968.43,34.06],[1968.50,34.07],[1968.57,34.09],[1968.64,34.11],[1968.71,34.12],[1968.78,34.14],[1968.85,34.16],[1968.92,34.16],[1968.99,34.17],[1969.06,34.17],[1969.13,34.18],[1969.20,34.19],[1969.27,34.22],[1969.34,34.24],[1969.41,34.27],[1969.48,34.30],[1969.55,34.32],[1969.62,34.35],[1969.69,34.37],[1969.76,34.39],[1969.83,34.41],[1969.90,34.43],[1969.97,34.41],[1970.00,34.40]]

series = [ferder, jaeren, stad, folla, vestfjorden, lopphavet, vardo]

// page geometry in pixels: where the top and bottom box lines sit, title centres
W = 1292, H = 2053
boxPx = [[168,463],[562,759],[857.5,1054],[1151,1346.5],[1445.5,1641],[1739,1837],[1935.5,2031]]
titleY = [129, 527, 818, 1115, 1412, 1705, 1899]
titleX = [604, 600, 605, 609, 617, 617, 613]
plotLeft = 69.5, plotRight = 1255
axisY = 70

tickFont = {family: '"Liberation Sans Narrow", "DejaVu Sans Condensed", "Arial Narrow", sans-serif', size: 33, color: '#111'}
titleFont = {family: '"Liberation Sans", Arial, sans-serif', size: 32, color: '#111'}
ink = '#111'

data = []
shapes = []
annotations = []
layout = {
    width: W, height: H,
    margin: {l: 0, r: 0, t: 0, b: 0},
    paper_bgcolor: '#fff', plot_bgcolor: 'rgba(0,0,0,0)',
    showlegend: false
}

for (i = 0; i < stations.length; i++) {
    k = i + 1
    xa = 'xaxis' + (k == 1 ? '' : k)
    ya = 'yaxis' + (k == 1 ? '' : k)
    xr = 'x' + (k == 1 ? '' : k)
    yr = 'y' + (k == 1 ? '' : k)
    ticks = yticks[i]
    lo = ticks[0], hi = ticks[ticks.length - 1]
    unit = (boxPx[i][1] - boxPx[i][0]) / (hi - lo)
    padTop = 0.22
    padBot = Math.min(0.22, (H - boxPx[i][1]) / unit)
    yTopPx = boxPx[i][0] - padTop * unit
    yBotPx = boxPx[i][1] + padBot * unit

    layout[xa] = {
        domain: [plotLeft / W, plotRight / W],
        range: [1950, 1970],
        anchor: yr,
        visible: false,
        fixedrange: true
    }
    layout[ya] = {
        domain: [Math.max(0, 1 - yBotPx / H), 1 - yTopPx / H],
        range: [lo - padBot, hi + padTop],
        anchor: xr,
        tickmode: 'array',
        tickvals: ticks,
        ticktext: ticks.map(String),
        ticks: 'outside', ticklen: 12, tickwidth: 2.6, tickcolor: ink,
        ticklabelstandoff: 4,
        tickfont: tickFont,
        showgrid: false, zeroline: false, showline: false,
        fixedrange: true
    }

    // box and grid lines
    ticks.forEach(function (v, j) {
        outer = (j == 0 || j == ticks.length - 1)
        shapes.push({type: 'line', xref: xr, yref: yr, x0: 1950, x1: 1970, y0: v, y1: v,
            line: {color: ink, width: outer ? 3 : 2.4}})
    })
    yearTicks.forEach(function (t, j) {
        outer = (j == 0 || j == yearTicks.length - 1)
        shapes.push({type: 'line', xref: xr, yref: yr, x0: t, x1: t, y0: lo, y1: hi,
            line: {color: ink, width: outer ? 2.6 : 1.8}})
    })

    // the curve, with the gap bridged by a dashed line
    pts = series[i]
    data.push({
        x: pts.map(function (p) { return p ? p[0] : null }),
        y: pts.map(function (p) { return p ? p[1] : null }),
        xaxis: xr, yaxis: yr,
        mode: 'lines', connectgaps: false,
        line: {color: ink, width: 4},
        hoverinfo: 'skip'
    })
    gap = pts.indexOf(null)
    if (gap > 0) {
        data.push({
            x: [pts[gap - 1][0], pts[gap + 1][0]],
            y: [pts[gap - 1][1], pts[gap + 1][1]],
            xaxis: xr, yaxis: yr,
            mode: 'lines',
            line: {color: ink, width: 3.4, dash: '10px,7px'},
            hoverinfo: 'skip'
        })
    }

    annotations.push({
        text: stations[i], xref: 'paper', yref: 'paper',
        x: titleX[i] / W, y: 1 - titleY[i] / H,
        xanchor: 'center', yanchor: 'middle', showarrow: false,
        font: titleFont
    })
}

// year scale drawn above the first panel
layout.xaxis.visible = true
Object.assign(layout.xaxis, {
    side: 'top', anchor: 'free', position: 1 - axisY / H,
    tickmode: 'array', tickvals: yearTicks, ticktext: yearLabels,
    ticks: 'outside', ticklen: 14, tickwidth: 2.6, tickcolor: ink,
    showline: true, linewidth: 2.6, linecolor: ink,
    showgrid: false, zeroline: false,
    tickfont: tickFont, ticklabelstandoff: -6,
    ticklabeloverflow: 'allow'
})

layout.shapes = shapes
layout.annotations = annotations

Plotly.newPlot('chart', data, layout, {staticPlot: true})
</script>
</body>
</html>
